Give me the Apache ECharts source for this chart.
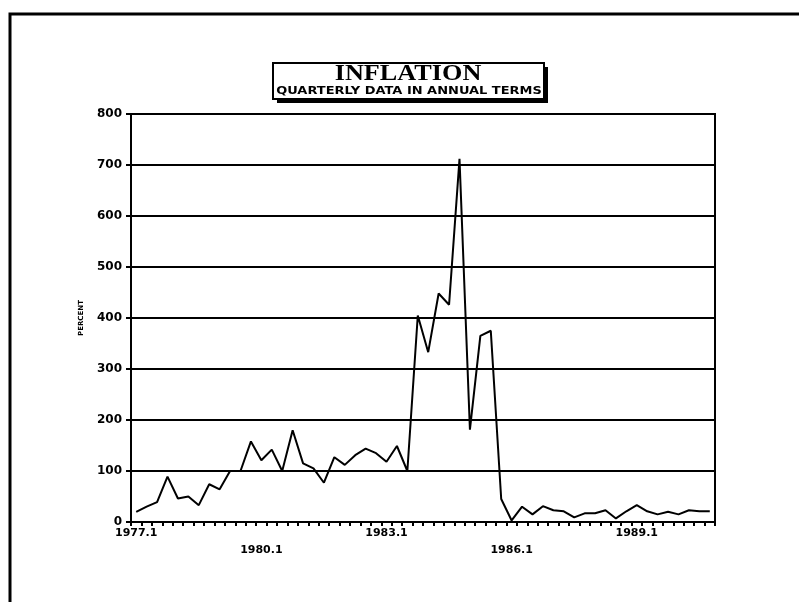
<!DOCTYPE html>
<html>
<head>
<meta charset="utf-8">
<script src="https://cdn.jsdelivr.net/npm/echarts@6/dist/echarts.min.js"></script>
<style>
  html, body { margin: 0; padding: 0; background: #fff; }
  #chart { width: 799px; height: 602px; }
</style>
</head>
<body>
<div id="chart"></div>
<script>
// quarters 1977.1 .. 1990.4
const quarters = [
  "1977.1", "1977.2", "1977.3", "1977.4",
  "1978.1", "1978.2", "1978.3", "1978.4",
  "1979.1", "1979.2", "1979.3", "1979.4",
  "1980.1", "1980.2", "1980.3", "1980.4",
  "1981.1", "1981.2", "1981.3", "1981.4",
  "1982.1", "1982.2", "1982.3", "1982.4",
  "1983.1", "1983.2", "1983.3", "1983.4",
  "1984.1", "1984.2", "1984.3", "1984.4",
  "1985.1", "1985.2", "1985.3", "1985.4",
  "1986.1", "1986.2", "1986.3", "1986.4",
  "1987.1", "1987.2", "1987.3", "1987.4",
  "1988.1", "1988.2", "1988.3", "1988.4",
  "1989.1", "1989.2", "1989.3", "1989.4",
  "1990.1", "1990.2", "1990.3", "1990.4"
];

// inflation, percent, annualised
const inflation = [
  20, 30, 39, 89, 46, 50, 33, 74,
  64, 100, 100, 158, 121, 142, 100, 180,
  115, 105, 77, 127, 112, 131, 144, 135,
  118, 149, 100, 405, 333, 448, 426, 712,
  181, 365, 375, 45, 3, 30, 15, 31,
  23, 21, 9, 17, 17, 23, 7, 21,
  33, 21, 15, 20, 15, 23, 21, 21
];

// labelled quarters; the "lower" ones sit on a second row
const upperLabels = ["1977.1", "1983.1", "1989.1"];
const lowerLabels = ["1980.1", "1986.1"];

const chart = echarts.init(document.getElementById("chart"));

const labelFont = "DejaVu Sans";

const option = {
  backgroundColor: "#fff",
  animation: false,
  grid: {
    left: 131,
    right: 84,
    top: 114,
    bottom: 80,
    show: true,
    borderColor: "#000",
    borderWidth: 2
  },
  graphic: [
    // outer frame, cut off at right and bottom
    {
      type: "rect",
      shape: { x: 10, y: 14, width: 820, height: 620 },
      style: { fill: null, stroke: "#000", lineWidth: 3 }
    },
    // title box shadow
    {
      type: "rect",
      shape: { x: 277, y: 67, width: 271, height: 36 },
      style: { fill: "#000" }
    },
    // title box
    {
      type: "rect",
      shape: { x: 273, y: 63, width: 271, height: 36 },
      style: { fill: "#fff", stroke: "#000", lineWidth: 2 }
    },
    {
      type: "text",
      x: 408,
      y: 63,
      scaleX: 1.14,
      style: {
        text: "INFLATION",
        font: "bold 23px 'Liberation Serif'",
        fill: "#000",
        align: "center",
        verticalAlign: "top"
      }
    },
    {
      type: "text",
      x: 409,
      y: 86,
      scaleX: 1.18,
      style: {
        text: "QUARTERLY DATA IN ANNUAL TERMS",
        font: "bold 11px 'DejaVu Sans'",
        fill: "#000",
        align: "center",
        verticalAlign: "top"
      }
    }
  ],
  xAxis: {
    type: "category",
    data: quarters,
    boundaryGap: true,
    axisLine: { lineStyle: { color: "#000", width: 2 } },
    axisTick: {
      show: true,
      interval: 0,
      length: 4,
      lineStyle: { color: "#000", width: 2 }
    },
    axisLabel: {
      interval: 0,
      margin: 3,
      color: "#000",
      fontFamily: labelFont,
      fontWeight: "bold",
      fontSize: 11,
      lineHeight: 17,
      formatter: (value) => {
        if (upperLabels.includes(value)) return value;
        if (lowerLabels.includes(value)) return "\n" + value;
        return "";
      }
    },
    splitLine: { show: false }
  },
  yAxis: {
    type: "value",
    min: 0,
    max: 800,
    interval: 100,
    name: "PERCENT",
    nameLocation: "middle",
    nameGap: 46,
    nameRotate: 90,
    nameTextStyle: {
      color: "#000",
      fontFamily: labelFont,
      fontWeight: "bold",
      fontSize: 7
    },
    axisLine: { show: true, lineStyle: { color: "#000", width: 2 } },
    axisTick: { show: true, length: 5, lineStyle: { color: "#000", width: 2 } },
    axisLabel: {
      margin: 9,
      color: "#000",
      fontFamily: labelFont,
      fontWeight: "bold",
      fontSize: 12
    },
    splitLine: { show: true, lineStyle: { color: "#000", width: 2 } }
  },
  series: [
    {
      type: "line",
      data: inflation,
      showSymbol: false,
      lineStyle: { color: "#000", width: 2 }
    }
  ]
};

chart.setOption(option);
</script>
</body>
</html>
